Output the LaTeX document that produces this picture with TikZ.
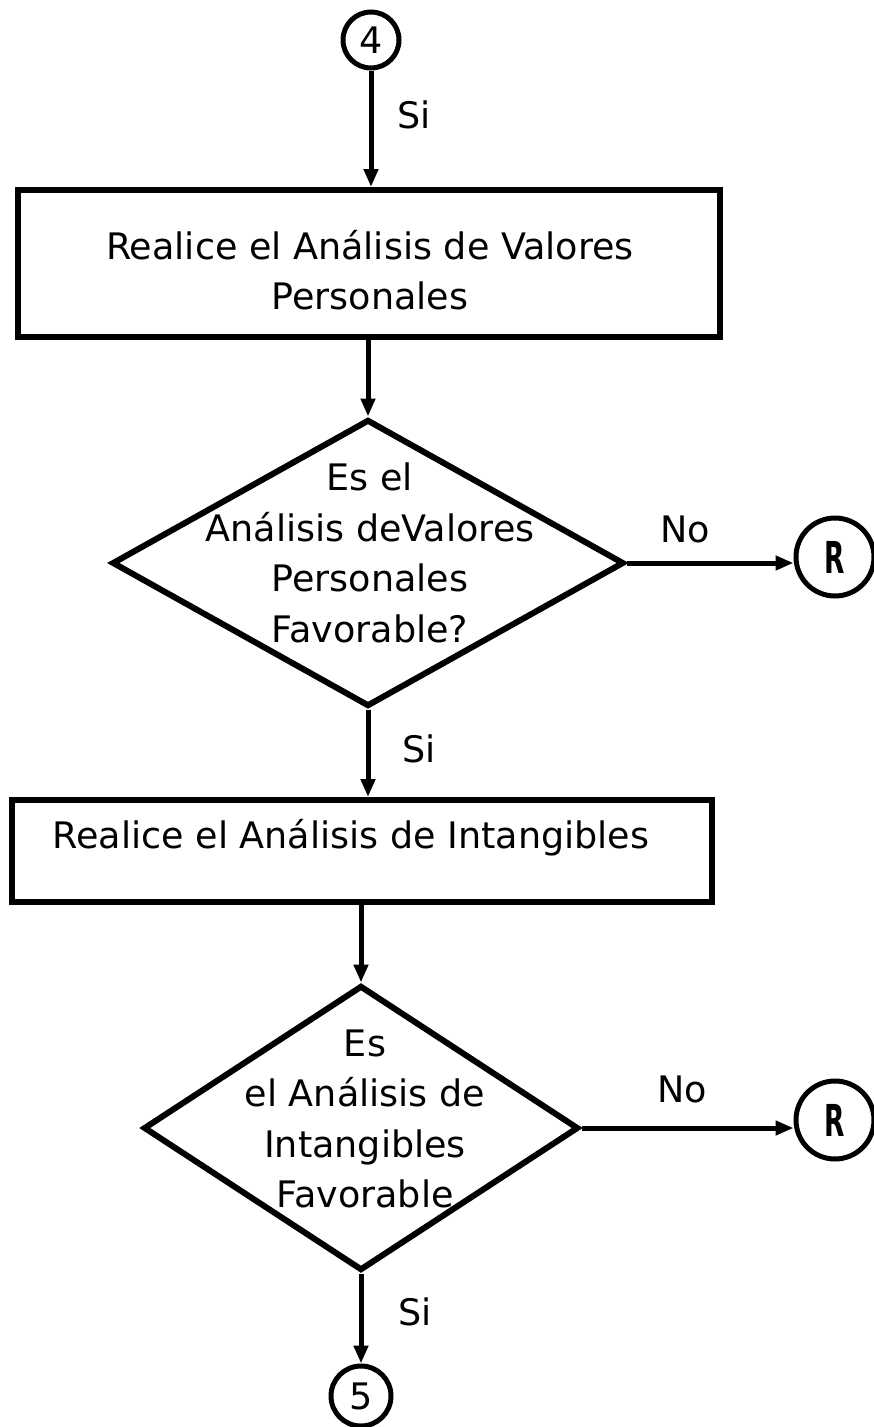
\documentclass[tikz,border=0pt]{standalone}
\usepackage{fontspec}
\usepackage{graphicx}
\setmainfont{DejaVu Sans}
\usetikzlibrary{shapes.geometric,arrows.meta}
\begin{document}
\begin{tikzpicture}[x=1pt,y=-1pt,
  every node/.style={font=\fontsize{36.5}{50.5}\selectfont, inner sep=0pt},
  proc/.style={draw, line width=6pt, rectangle},
  dec/.style={draw, line width=6pt, diamond},
  conn/.style={draw, line width=5pt, circle},
  flow/.style={line width=5pt, -{Triangle[length=18pt,width=14pt]}},
  lbl/.style={anchor=base west},
  rlet/.style={font=\fontsize{44}{44}\selectfont\bfseries}]
\useasboundingbox (0,0) rectangle (873,1427);
% nodes
\node[conn, minimum size=56pt] (c4) at (371,40) {4};
\node[proc, minimum width=702pt, minimum height=147pt] (b1) at (369,263.5) {};
\node[align=center] (t1) at (370,270) {Realice el Análisis de Valores\\Personales};
\node[dec, minimum width=512pt, minimum height=287pt] (d1) at (368,563) {};
\node[align=center] (t2) at (370,553) {Es el\\Análisis deValores\\Personales\\Favorable?};
\node[conn, minimum size=78pt] (r1) at (835,557) {};
\node[rlet] (rl1) at (r1) {\scalebox{0.6}[1]{R}};
\node[proc, minimum width=700pt, minimum height=102pt] (b2) at (362,851) {};
\node[anchor=base] (t3) at (351,848) {Realice el Análisis de Intangibles};
\node[dec, minimum width=435pt, minimum height=285pt] (d2) at (361,1128) {};
\node[align=center] (t4) at (365,1119) {Es\\el Análisis de\\Intangibles\\Favorable};
\node[conn, minimum size=78pt] (r2) at (835,1120) {};
\node[rlet] (rl2) at (r2) {\scalebox{0.6}[1]{R}};
\node[conn, minimum size=60pt] (c5) at (361,1396) {5};
% labels
\node[lbl] (s1) at (397,128) {Si};
\node[lbl] (s2) at (402,762) {Si};
\node[lbl] (s3) at (398,1325) {Si};
\node[lbl] (n1) at (660,542) {No};
\node[lbl] (n2) at (657,1102) {No};
% connectors
\draw[flow] (c4.south) -- (c4.south |- b1.north);
\draw[flow] (d1.north |- b1.south) -- (d1.north);
\draw[flow] (d1.south) -- (d1.south |- b2.north);
\draw[flow] (d2.north |- b2.south) -- (d2.north);
\draw[flow] (d2.south) -- (c5.north);
\draw[flow] (d1.east) -- (r1.west |- d1.east);
\draw[flow] (d2.east) -- (r2.west |- d2.east);
\end{tikzpicture}
\end{document}
